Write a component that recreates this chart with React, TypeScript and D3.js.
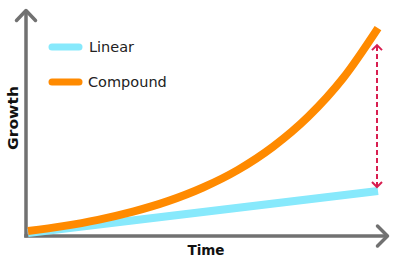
import React from "react";
import * as d3 from "d3";

const times = [0, 1, 2, 3, 4, 5, 6, 7, 8, 9, 10];
const compound = [2.4, 4.7, 7.7, 11.6, 16.6, 23.1, 31.5, 42.5, 56.7, 75.1, 99.0];
const linearTimes = [0, 10];
const linear = [1.4, 21.4];
const legendLabels = ["Linear", "Compound"];
const axisLabels = { x: "Time", y: "Growth" };

const W = 400;
const H = 269;
const AXIS = "#717171";
const CYAN = "#87e9fc";
const ORANGE = "#ff8a00";
const RED = "#d81e50";

export default function App() {
  const x = d3.scaleLinear().domain([0, 10]).range([28, 378]);
  const y = d3.scaleLinear().domain([0, 100]).range([236, 26]);

  const compLine = d3
    .line<number>()
    .x((_, i) => x(times[i]))
    .y((d) => y(d))
    .curve(d3.curveMonotoneX)(compound) as string;
  const linLine = d3
    .line<number>()
    .x((_, i) => x(linearTimes[i]))
    .y((d) => y(d))(linear) as string;

  const ax = x(10) - 1;
  const topY = y(compound[compound.length - 1]) + 17;
  const botY = y(linear[linear.length - 1]) - 4;

  return (
    <svg
      width={W}
      height={H}
      style={{ position: "absolute", left: 0, top: 0, background: "#fff" }}
      fontFamily="DejaVu Sans, sans-serif"
    >
      {/* axes */}
      <line x1={26} y1={10} x2={26} y2={237.5} stroke={AXIS} strokeWidth={3.5} />
      <line x1={24.25} y1={236} x2={388} y2={236} stroke={AXIS} strokeWidth={3.5} />
      <polyline points="16.5,20.5 26,10.5 35.5,20.5" fill="none" stroke={AXIS} strokeWidth={3.5} strokeLinecap="round" strokeLinejoin="round" />
      <polyline points="377.5,226 387.5,236 377.5,246" fill="none" stroke={AXIS} strokeWidth={3.5} strokeLinecap="round" strokeLinejoin="round" />

      {/* series */}
      <path d={linLine} fill="none" stroke={CYAN} strokeWidth={8} />
      <path d={compLine} fill="none" stroke={ORANGE} strokeWidth={8} />

      {/* difference arrow */}
      <line x1={ax} y1={topY + 1} x2={ax} y2={botY - 1} stroke={RED} strokeWidth={2} strokeDasharray="5,3" />
      <polyline points={`${ax - 5},${topY + 5} ${ax},${topY} ${ax + 5},${topY + 5}`} fill="none" stroke={RED} strokeWidth={2} />
      <polyline points={`${ax - 5},${botY - 5} ${ax},${botY} ${ax + 5},${botY - 5}`} fill="none" stroke={RED} strokeWidth={2} />

      {/* legend */}
      <line x1={52} y1={47} x2={79} y2={47} stroke={CYAN} strokeWidth={7} strokeLinecap="round" />
      <text x={89} y={52} fontSize={14.5} fill="#222">{legendLabels[0]}</text>
      <line x1={52} y1={82} x2={79} y2={82} stroke={ORANGE} strokeWidth={7} strokeLinecap="round" />
      <text x={88} y={87} fontSize={14.5} fill="#222">{legendLabels[1]}</text>

      {/* axis labels */}
      <text x={206} y={255} fontSize={13.5} fontWeight="bold" textAnchor="middle" fill="#111">
        {axisLabels.x}
      </text>
      <text
        transform="translate(17.5,118) rotate(-90)"
        fontSize={13.5}
        fontWeight="bold"
        textAnchor="middle"
        fill="#111"
        textLength={64}
        lengthAdjust="spacingAndGlyphs"
      >
        {axisLabels.y}
      </text>
    </svg>
  );
}
